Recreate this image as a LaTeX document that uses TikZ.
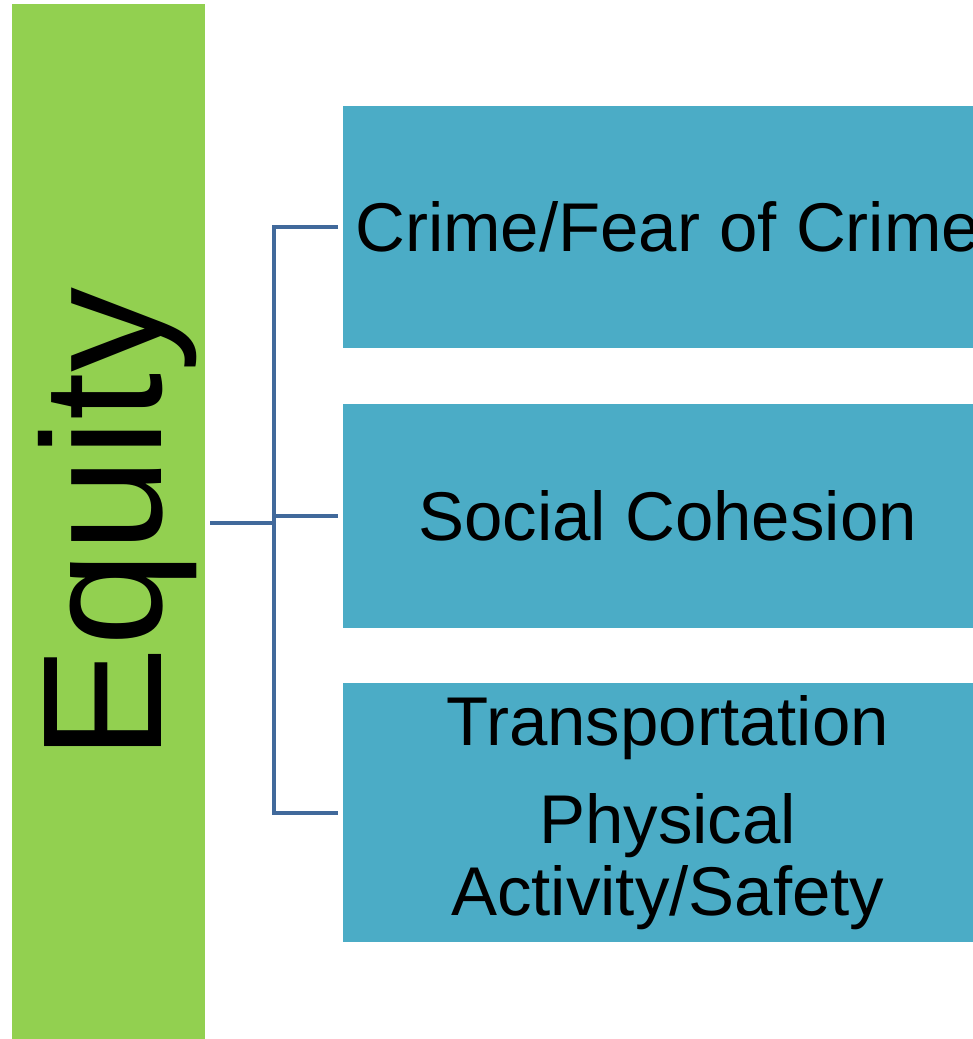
\documentclass[tikz,border=0pt]{standalone}
\usepackage{fontspec}
\setmainfont{Liberation Sans}
\definecolor{eqgreen}{RGB}{146,208,80}
\definecolor{boxblue}{RGB}{75,172,198}
\definecolor{connblue}{RGB}{65,105,155}
\begin{document}
\begin{tikzpicture}[x=1bp,y=-1bp,
  bar/.style={fill=eqgreen, draw=none, minimum width=193bp, minimum height=1034.5bp, inner sep=0pt, anchor=north west},
  topic/.style={fill=boxblue, draw=none, minimum width=649bp, inner sep=0pt, anchor=north west, align=center, font=\fontsize{69bp}{72bp}\selectfont},
  conn/.style={draw=connblue, line width=4bp, line join=miter}]
\useasboundingbox (0,0) rectangle (973,1039);
\clip (0,0) rectangle (973,1039);
\node[bar] (equity) at (11.5,4) {};
\node[rotate=90, anchor=base, font=\fontsize{170bp}{180bp}\selectfont] (eqlabel) at (161,524) {Equity};
\node[topic, minimum height=242bp] (b1) at (343,106) {Crime/Fear of Crime};
\node[topic, minimum height=224bp] (b2) at (343,404) {Social Cohesion};
\node[topic, minimum height=259bp] (b3) at (343,683) {Transportation\\[26bp]Physical\\Activity/Safety};
\coordinate (root) at (210,523);
\coordinate (jn) at (274,523);
\draw[conn] (root) -- (jn);
\draw[conn] ([xshift=-5bp]b1.west) -| (jn) |- ([xshift=-5bp]b3.west);
\draw[conn] (jn |- b2.west) -- ([xshift=-5bp]b2.west);
\end{tikzpicture}
\end{document}
